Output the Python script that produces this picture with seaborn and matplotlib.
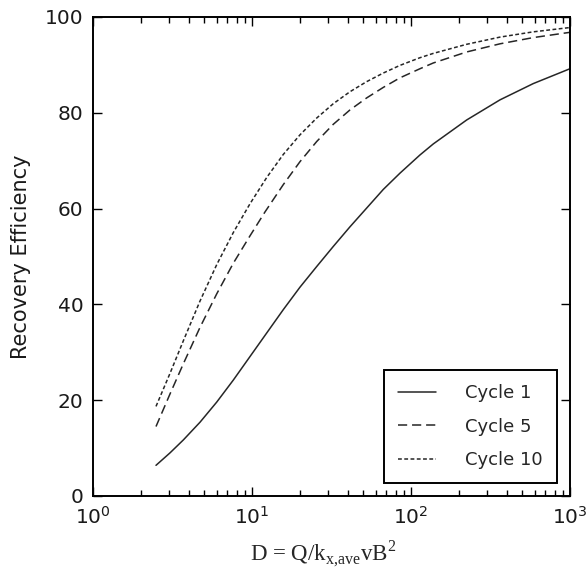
import matplotlib
matplotlib.use("Agg")
import matplotlib.pyplot as plt
import seaborn as sns
import pandas as pd

# Dimensionless group D and recovery efficiency (%) for three cycles
d_cycle1 = [2.49, 3.05, 3.70, 4.71, 6.00, 7.63, 9.71, 12.98, 15.73, 20.04, 25.52,
            32.46, 41.33, 66.95, 85.26, 113.9, 138.1, 224.0, 362.8, 587.7, 1000]
re_cycle1 = [6.4, 9.0, 11.7, 15.4, 19.6, 24.2, 29.1, 35.0, 38.9, 43.6, 47.9,
             52.1, 56.2, 64.0, 67.4, 71.2, 73.5, 78.5, 82.7, 86.1, 89.2]

d_cycle5 = [2.49, 3.05, 3.70, 4.71, 6.00, 7.63, 9.71, 12.07, 15.73, 20.04, 25.52,
            32.46, 41.33, 52.6, 66.95, 85.26, 113.9, 138.1, 224.0, 362.8, 587.7, 1000]
re_cycle5 = [14.5, 21.3, 27.6, 35.2, 42.2, 48.6, 54.3, 59.3, 65.0, 69.8, 74.0,
             77.6, 80.6, 83.1, 85.3, 87.3, 89.2, 90.4, 92.7, 94.4, 95.7, 96.8]

d_cycle10 = [2.49, 3.05, 3.70, 4.71, 6.00, 7.63, 9.71, 12.38, 15.73, 20.04, 25.52,
             32.46, 41.33, 52.6, 66.95, 85.26, 113.9, 138.1, 224.0, 362.8, 587.7, 1000]
re_cycle10 = [18.7, 25.6, 32.4, 40.7, 48.3, 55.0, 61.0, 66.5, 71.3, 75.4, 78.9,
              81.9, 84.4, 86.5, 88.3, 89.9, 91.5, 92.4, 94.3, 95.8, 96.9, 97.8]

series_labels = ["Cycle 1", "Cycle 5", "Cycle 10"]

sns.set_style("ticks")
plt.rcParams["font.family"] = ["DejaVu Sans"]
plt.rcParams["mathtext.fontset"] = "dejavusans"

fig = plt.figure(figsize=(5.86, 5.72), dpi=100)
ax = fig.add_axes([0.1587, 0.1329, 0.814, 0.8374])

line_color = "#262626"
styles = ["-", (0, (6, 3.2)), (0, (2.5, 1.6))]
for d, re_, lab, ls in zip([d_cycle1, d_cycle5, d_cycle10],
                           [re_cycle1, re_cycle5, re_cycle10],
                           series_labels, styles):
    df = pd.DataFrame({"D": d, "RE": re_})
    sns.lineplot(data=df, x="D", y="RE", ax=ax, color=line_color,
                 linewidth=1.1, linestyle=ls, label=lab)

ax.set_xscale("log")
ax.set_xlim(1, 1000)
ax.set_ylim(0, 100)
ax.set_yticks([0, 20, 40, 60, 80, 100])

for s in ax.spines.values():
    s.set_linewidth(1.4)
    s.set_color("black")

ax.tick_params(axis="both", which="both", direction="in", top=True, right=True,
               labelsize=14.5, pad=7, color="black", width=1.0,
               labelcolor="#1a1a1a")
ax.tick_params(axis="both", which="major", length=6.5)
ax.tick_params(axis="x", which="minor", length=4)
ax.tick_params(axis="y", which="minor", left=False, right=False)

ax.set_ylabel("Recovery Efficiency", fontsize=15, labelpad=10, color="#1a1a1a")
plt.rcParams["mathtext.fontset"] = "custom"
plt.rcParams["mathtext.rm"] = "Liberation Serif"
plt.rcParams["mathtext.it"] = "Liberation Serif"
ax.set_xlabel(r"D = Q/k$_{\mathregular{x{,}ave}}$vB$^{\mathregular{2}}$",
              fontsize=16.5, family="Liberation Serif", labelpad=8)
ax.xaxis.label.set_x(0.483)

leg = ax.legend(loc="lower right", fontsize=13, frameon=True, fancybox=False,
                edgecolor="black", handlelength=2.1, handletextpad=1.6,
                labelspacing=0.85, borderpad=0.8, borderaxespad=0.7)
leg.get_frame().set_linewidth(1.4)
leg.get_frame().set_alpha(1)

fig.savefig("out.png", dpi=100)
